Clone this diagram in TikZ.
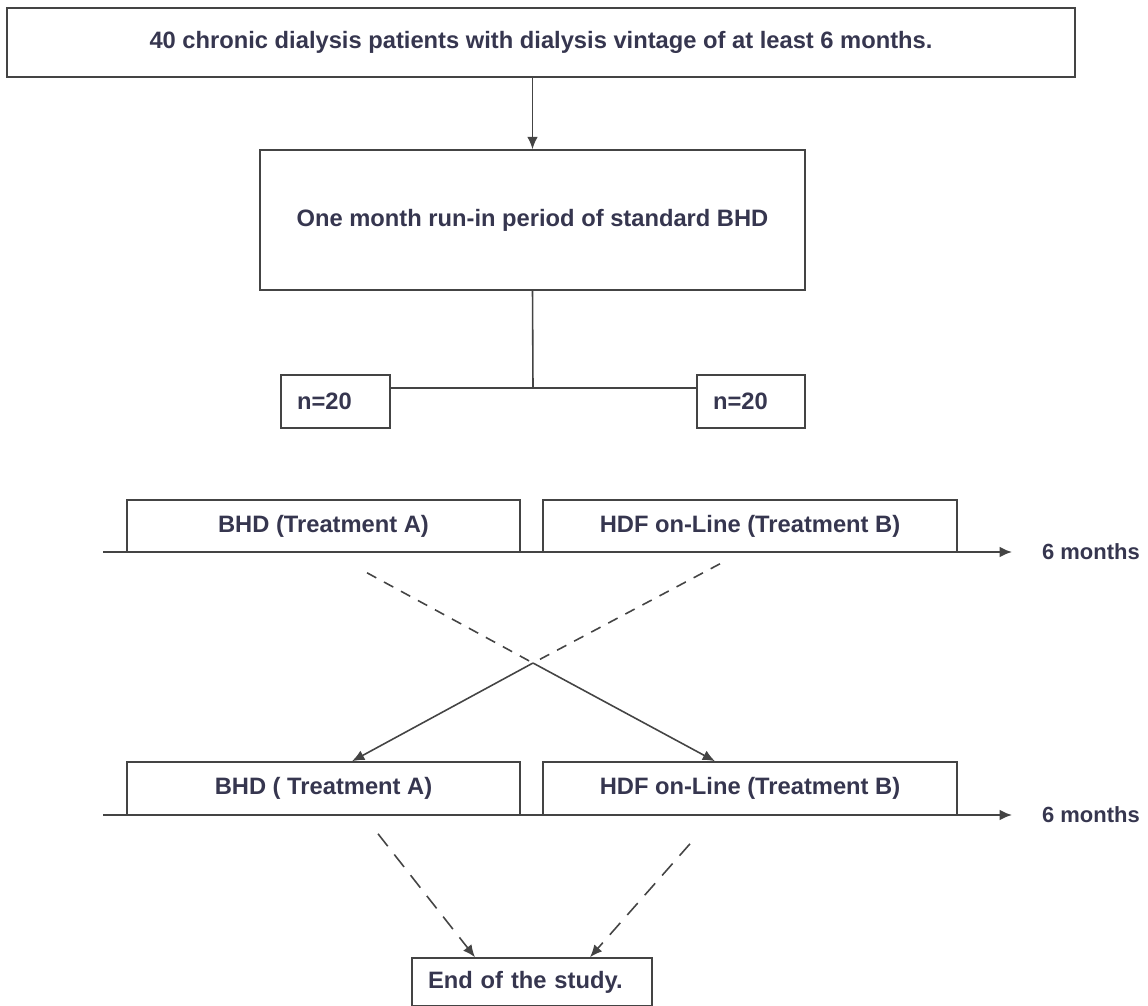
\documentclass[tikz,border=0pt]{standalone}
\usepackage{fontspec}
\setmainfont{Liberation Sans}
\usetikzlibrary{arrows.meta, positioning, calc}
\definecolor{txtcol}{HTML}{36364F}
\definecolor{lncol}{HTML}{444444}

\begin{document}
\begin{tikzpicture}[
    x=0.02cm, y=-0.02cm,
    box/.style={rectangle, draw=lncol, line width=0.9pt, inner sep=0pt, text=txtcol,
        font=\fontsize{13.5}{16}\selectfont\bfseries},
    sbox/.style={box, align=left, inner xsep=0.32cm, text width=#1},
    arr/.style={-{Latex[length=7pt, width=6pt]}, draw=lncol, line width=0.9pt},
    dline/.style={draw=lncol, line width=0.9pt, dash pattern=on 6pt off 5pt},
    tline/.style={-{Latex[length=7pt, width=6pt]}, draw=lncol, line width=1.1pt},
    lbl/.style={text=txtcol, inner sep=1pt, font=\fontsize{12.5}{15}\selectfont\bfseries}
]
    \useasboundingbox (0,0) rectangle (1148,1006);

    \node[box, minimum width=21.36cm, minimum height=1.38cm] (pat) at (541,42.5)
        {40 chronic dialysis patients with dialysis vintage of at least 6 months.};
    \node[box, minimum width=10.9cm, minimum height=2.8cm] (run) at (532.5,220)
        {One month run-in period of standard BHD};
    \draw[arr] (pat.south -| run.north) -- (run.north);

    % randomisation
    \node[sbox=1.54cm, minimum height=1.06cm] (nl) at (335.5,401.5) {n=20};
    \node[sbox=1.52cm, minimum height=1.06cm] (nr) at (751,401.5) {n=20};
    \coordinate (jn) at (533,388);
    \draw[draw=lncol, line width=0.9pt] (run.south) -- (jn);
    \draw[draw=lncol, line width=0.9pt] (jn -| nl.east) -- (jn -| nr.west);

    % first period
    \node[box, minimum width=7.86cm, minimum height=1.04cm] (a1) at (323.5,526) {BHD (Treatment A)};
    \node[box, minimum width=8.28cm, minimum height=1.04cm] (b1) at (750,526) {HDF on-Line (Treatment B)};
    \coordinate (t1s) at (103,552);
    \coordinate (t1e) at (1012,552);
    \draw[tline] (t1s) -- (t1e);
    \node[lbl, anchor=west] (m1) at (1040,552) {6 months};

    % second period
    \node[box, minimum width=7.86cm, minimum height=1.06cm] (a2) at (323.5,788.5) {BHD ( Treatment A)};
    \node[box, minimum width=8.28cm, minimum height=1.06cm] (b2) at (750,788.5) {HDF on-Line (Treatment B)};
    \coordinate (t2s) at (103,815);
    \coordinate (t2e) at (1012,815);
    \draw[tline] (t2s) -- (t2e);
    \node[lbl, anchor=west] (m2) at (1040,815) {6 months};

    % cross-over
    \coordinate (xa) at ($(a1.south)+(43.5,20)$);
    \coordinate (xb) at ($(b1.south)+(-30,11)$);
    \coordinate (ya) at ($(a2.north)+(28.5,0)$);
    \coordinate (yb) at ($(b2.north)+(-35,0)$);
    \coordinate (cr) at (533,663);
    \draw[dline] (xa) -- (cr);
    \draw[dline] (xb) -- (cr);
    \draw[arr] (cr) -- (yb);
    \draw[arr] (cr) -- (ya);

    \node[sbox=4.16cm, minimum height=0.96cm] (end) at (532,982) {End of the study.};
    \coordinate (za) at ($(a2.south)+(54.5,18)$);
    \coordinate (zb) at ($(b2.south)+(-60,28)$);
    \draw[arr, dash pattern=on 9pt off 6pt] (za) -- ($(end.north)+(-57,0)$);
    \draw[arr, dash pattern=on 9pt off 6pt] (zb) -- ($(end.north)+(58,0)$);
\end{tikzpicture}
\end{document}
